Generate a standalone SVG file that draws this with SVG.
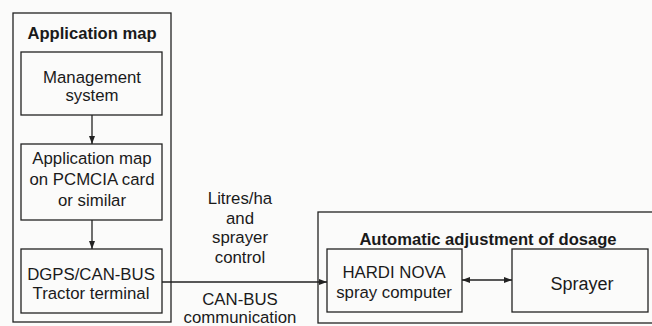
<svg xmlns="http://www.w3.org/2000/svg" width="652" height="326" viewBox="0 0 652 326">
<style>
.box{fill:none;stroke:#222;stroke-width:1.3}
.t{font-family:"Liberation Sans",Arial,sans-serif;font-size:16.8px;fill:#1a1a1a;text-anchor:middle}
.b{font-weight:bold;font-size:16.6px}
.c{fill:none;stroke:#222;stroke-width:1.3}
</style>
<defs>
<marker id="ah" viewBox="0 0 8 6" refX="8" refY="3" markerWidth="8" markerHeight="6" markerUnits="userSpaceOnUse" orient="auto-start-reverse">
<path d="M0,0 L8,3 L0,6 Z" fill="#222"/>
</marker>
</defs>
<rect width="652" height="326" fill="#fbfbfa"/>
<g id="application-map-group">
<rect class="box" x="13" y="13" width="158" height="309"/>
<text class="t b" x="92" y="39">Application map</text>
</g>
<g id="management-system">
<rect class="box" x="21" y="52" width="141" height="63"/>
<text class="t" x="92" y="83">Management</text>
<text class="t" x="92" y="101">system</text>
</g>
<g id="application-map-card">
<rect class="box" x="21" y="144" width="141" height="76"/>
<text class="t" x="92" y="164">Application map</text>
<text class="t" x="92" y="185">on PCMCIA card</text>
<text class="t" x="92" y="206">or similar</text>
</g>
<g id="tractor-terminal">
<rect class="box" x="21" y="249" width="141" height="64"/>
<text class="t" x="91" y="280">DGPS/CAN-BUS</text>
<text class="t" x="91" y="299">Tractor terminal</text>
</g>
<g id="automatic-adjustment-group">
<rect class="box" x="318" y="212" width="340" height="111"/>
<text class="t b" x="488" y="245">Automatic adjustment of dosage</text>
</g>
<g id="hardi-nova">
<rect class="box" x="327" y="249" width="135" height="63"/>
<text class="t" x="394" y="278">HARDI NOVA</text>
<text class="t" x="394" y="298">spray computer</text>
</g>
<g id="sprayer">
<rect class="box" x="512" y="249" width="136" height="63"/>
<text class="t" x="582" y="290" style="font-size:18px">Sprayer</text>
</g>
<g id="connectors">
<line class="c" x1="92" y1="115" x2="92" y2="144" marker-end="url(#ah)"/>
<line class="c" x1="92" y1="220" x2="92" y2="249" marker-end="url(#ah)"/>
<line class="c" x1="162" y1="282" x2="327" y2="282" marker-end="url(#ah)"/>
<line class="c" x1="462" y1="280" x2="512" y2="280" marker-start="url(#ah)" marker-end="url(#ah)"/>
<text class="t" x="240" y="204">Litres/ha</text>
<text class="t" x="240" y="224">and</text>
<text class="t" x="240" y="243">sprayer</text>
<text class="t" x="240" y="263">control</text>
<text class="t" x="240" y="305">CAN-BUS</text>
<text class="t" x="240" y="323">communication</text>
</g>
</svg>
